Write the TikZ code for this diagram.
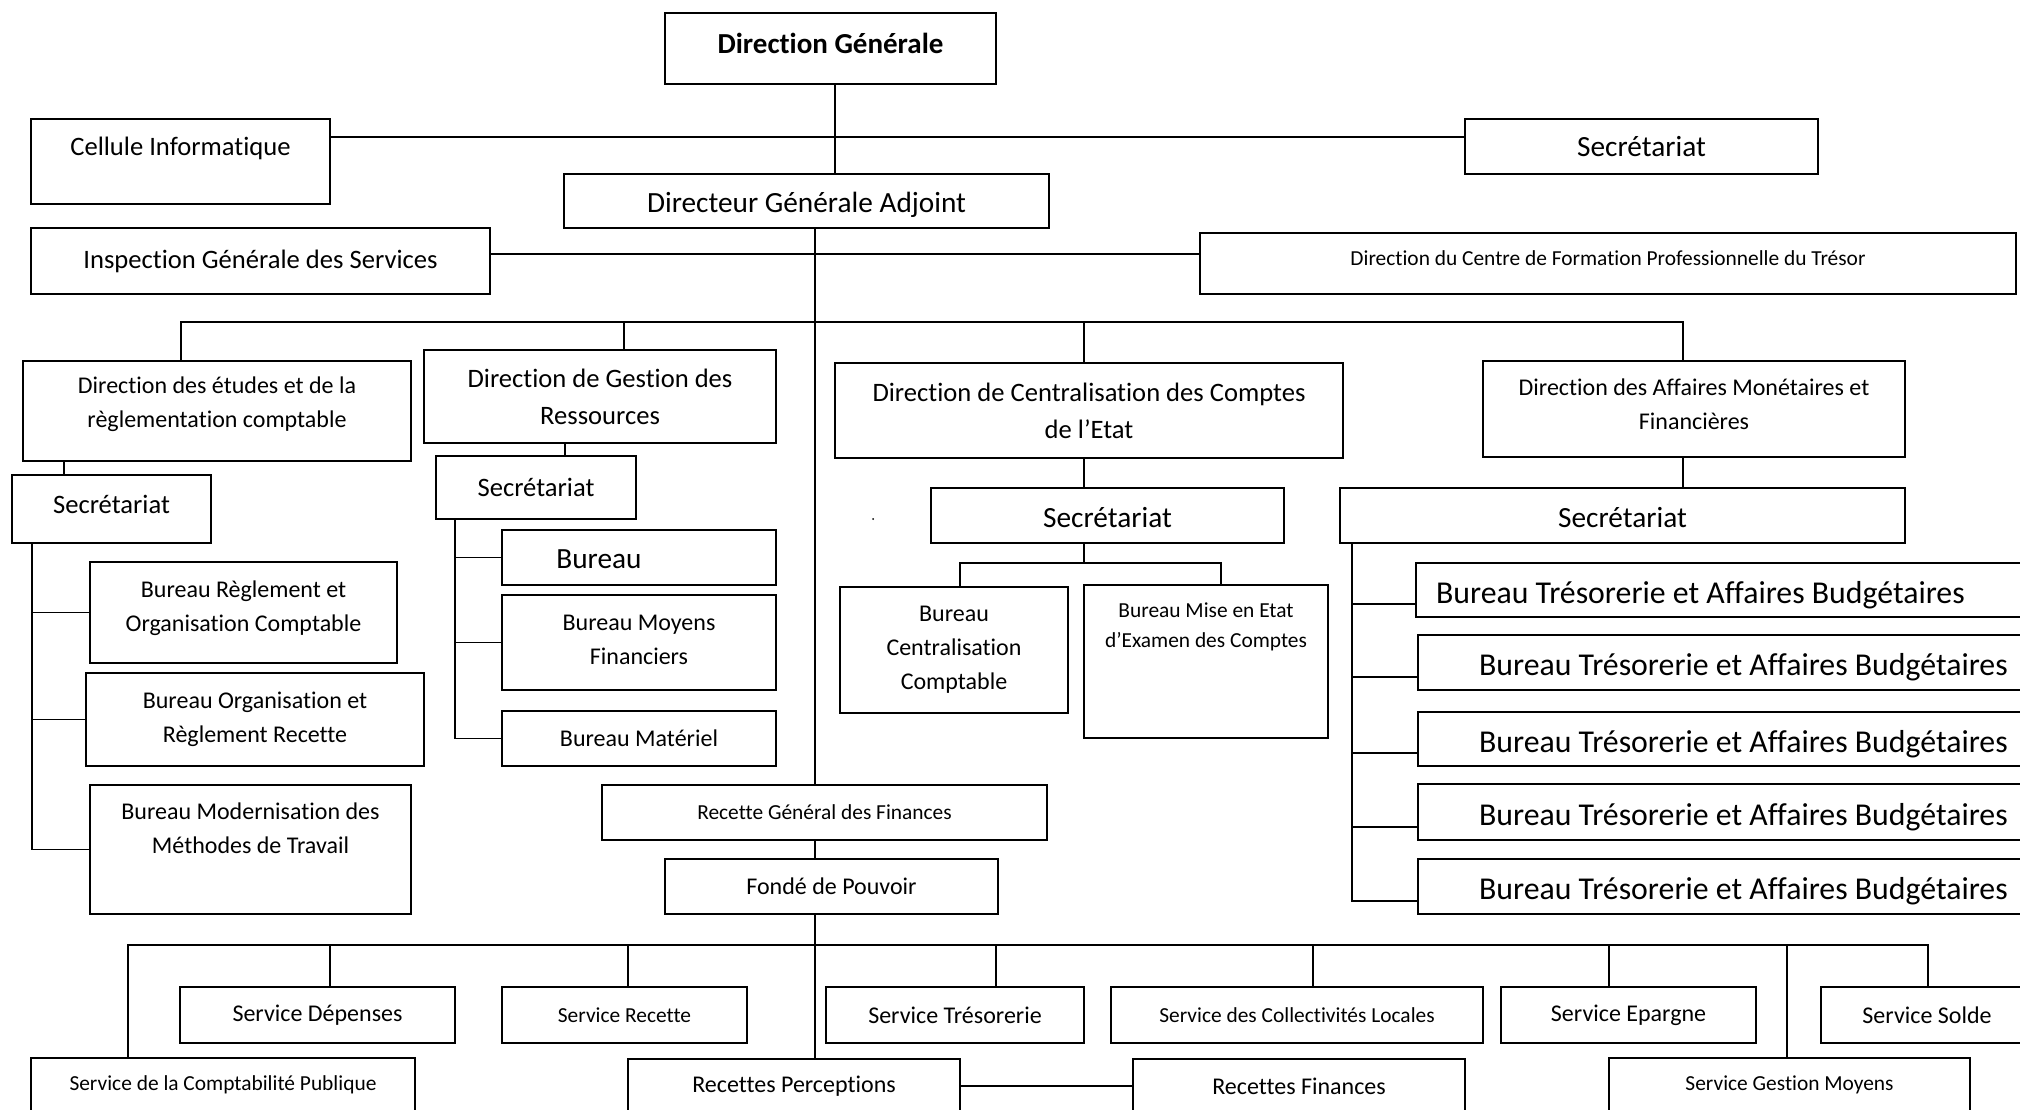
\documentclass[tikz,border=0pt]{standalone}
\usepackage{fontspec}
\setmainfont{Carlito}[Ligatures=NoCommon]

\tikzset{
  box/.style={draw, line width=2.2pt, inner sep=0pt, align=center},
  txt/.style={inner sep=0pt, align=center},
  link/.style={line width=1.8pt},
  fb/.style={font=\fontsize{29}{35}\selectfont\bfseries},
  fxxl/.style={font=\fontsize{31.8}{41}\selectfont},
  fxl/.style={font=\fontsize{29.3}{41}\selectfont},
  fl/.style={font=\fontsize{26.6}{37}\selectfont},
  fm/.style={font=\fontsize{24}{34}\selectfont},
  fxs/.style={font=\fontsize{21.4}{30.5}\selectfont},
}

\begin{document}
\begin{tikzpicture}[x=1pt, y=-1pt]
    \useasboundingbox (0,0) rectangle (2020,1110);
    \clip (0,0) rectangle (2020,1110);

    % direction generale
    \node[box, minimum width=331pt, minimum height=71pt] (dg) at (830.5,48.5) {};
    \node[txt, fb] (dg-t) at ([yshift=5.5pt]dg) {Direction Générale};
    \node[box, minimum width=299pt, minimum height=85pt] (cel) at (180.5,161.5) {};
    \node[txt, fl] (cel-t) at ([yshift=13.5pt]cel) {Cellule Informatique};
    \node[box, fxl, minimum width=353pt, minimum height=55pt] (sec) at (1641.5,146.5) {Secrétariat};
    \node[box, minimum width=485pt, minimum height=54pt] (dga) at (806.5,201) {};
    \node[txt, fxl] (dga-t) at ([yshift=-4pt]dga) {Directeur Générale Adjoint};
    \node[box, fl, minimum width=459pt, minimum height=66pt] (igs) at (260.5,261) {Inspection Générale des Services};
    \node[box, minimum width=816pt, minimum height=61pt] (dcf) at (1608,263.5) {};
    \node[txt, fxs] (dcf-t) at ([yshift=5.5pt]dcf) {Direction du Centre de Formation Professionnelle du Trésor};

    % directions
    \node[box, minimum width=388pt, minimum height=100pt] (der) at (217,411) {};
    \node[txt, fm] (der-t) at ([yshift=7pt]der) {Direction des études et de la\\règlementation comptable};
    \node[box, fl, minimum width=352pt, minimum height=93pt] (dgr) at (600,396.5) {Direction de Gestion des\\Ressources};
    \node[box, fl, minimum width=508pt, minimum height=95pt] (dcc) at (1089,410.5) {Direction de Centralisation des Comptes\\de l’Etat};
    \node[box, minimum width=422pt, minimum height=96pt] (dam) at (1694,409) {};
    \node[txt, fm] (dam-t) at ([yshift=5pt]dam) {Direction des Affaires Monétaires et\\Financières};

    % secretariats
    \node[box, minimum width=199pt, minimum height=68pt] (ders) at (111.5,509) {};
    \node[txt, fl] (ders-t) at ([yshift=5pt]ders) {Secrétariat};
    \node[box, fl, minimum width=200pt, minimum height=63pt] (dgrs) at (536,487.5) {Secrétariat};
    \node[box, minimum width=353pt, minimum height=55pt] (dccs) at (1107.5,515.5) {};
    \node[txt, fxl] (dccs-t) at ([yshift=-2.5pt]dccs) {Secrétariat};
    \node[box, minimum width=565pt, minimum height=55pt] (dams) at (1622.5,515.5) {};
    \node[txt, fxl] (dams-t) at ([yshift=-2.5pt]dams) {Secrétariat};

    % bureaux etudes
    \node[box, minimum width=307pt, minimum height=101pt] (bro) at (243.5,612.5) {};
    \node[txt, fm] (bro-t) at ([yshift=4pt]bro) {Bureau Règlement et\\Organisation Comptable};
    \node[box, fm, minimum width=338pt, minimum height=93pt] (bor) at (255,719.5) {Bureau Organisation et\\Règlement Recette};
    \node[box, minimum width=321pt, minimum height=129pt] (bmm) at (250.5,849.5) {};
    \node[txt, fm] (bmm-t) at ([yshift=21.5pt]bmm) {Bureau Modernisation des\\Méthodes de Travail};

    % bureaux ressources
    \node[box, minimum width=274pt, minimum height=55pt] (bur) at (639,557.5) {};
    \node[txt, fxl] (bur-t) at ([xshift=-40pt, yshift=-2pt]bur) {Bureau};
    \node[box, minimum width=274pt, minimum height=95pt] (bmf) at (639,642.5) {};
    \node[txt, fm] (bmf-t) at ([yshift=2.5pt]bmf) {Bureau Moyens\\Financiers};
    \node[box, fm, minimum width=274pt, minimum height=55pt] (bmt) at (639,738.5) {Bureau Matériel};

    % bureaux centralisation
    \node[box, fm, minimum width=228pt, minimum height=126pt] (bcc) at (954,650) {Bureau\\Centralisation\\Comptable};
    \node[box, minimum width=244pt, minimum height=153pt] (bme) at (1206,661.5) {};
    \node[txt, fxs] (bme-t) at ([yshift=34.5pt]bme) {Bureau Mise en Etat\\d’Examen des Comptes};
    \fill (873,519) circle[radius=1pt];

    % bureaux affaires monetaires
    \node[box, minimum width=644pt, minimum height=54pt] (bt1) at (1738,590) {};
    \node[txt, fxxl, anchor=west] (bt1-t) at ([xshift=21pt, yshift=-5pt]bt1.west) {Bureau Trésorerie et Affaires Budgétaires};
    \node[box, minimum width=642pt, minimum height=55pt] (bt2) at (1739,662.5) {};
    \node[txt, fxxl, anchor=west] (bt2-t) at ([xshift=62pt, yshift=-5pt]bt2.west) {Bureau Trésorerie et Affaires Budgétaires};
    \node[box, minimum width=642pt, minimum height=54pt] (bt3) at (1739,739) {};
    \node[txt, fxxl, anchor=west] (bt3-t) at ([xshift=62pt, yshift=-5pt]bt3.west) {Bureau Trésorerie et Affaires Budgétaires};
    \node[box, minimum width=642pt, minimum height=56pt] (bt4) at (1739,812) {};
    \node[txt, fxxl, anchor=west] (bt4-t) at ([xshift=62pt, yshift=-5pt]bt4.west) {Bureau Trésorerie et Affaires Budgétaires};
    \node[box, minimum width=642pt, minimum height=55pt] (bt5) at (1739,886.5) {};
    \node[txt, fxxl, anchor=west] (bt5-t) at ([xshift=62pt, yshift=-5pt]bt5.west) {Bureau Trésorerie et Affaires Budgétaires};

    % recette generale
    \node[box, fxs, minimum width=445pt, minimum height=55pt] (rgf) at (824.5,812.5) {Recette Général des Finances};
    \node[box, fm, minimum width=333pt, minimum height=55pt] (fdp) at (831.5,886.5) {Fondé de Pouvoir};

    % services
    \node[box, fm, minimum width=275pt, minimum height=56pt] (sde) at (317.5,1015) {Service Dépenses};
    \node[box, fxs, minimum width=245pt, minimum height=56pt] (sre) at (624.5,1015) {Service Recette};
    \node[box, fm, minimum width=258pt, minimum height=56pt] (str) at (955,1015) {Service Trésorerie};
    \node[box, fxs, minimum width=372pt, minimum height=56pt] (scl) at (1297,1015) {Service des Collectivités Locales};
    \node[box, fm, minimum width=255pt, minimum height=56pt] (sep) at (1628.5,1015) {Service Epargne};
    \node[box, fm, minimum width=212pt, minimum height=56pt] (sso) at (1927,1015) {Service Solde};
    \node[box, fxs, minimum width=384pt, minimum height=54pt] (scp) at (223,1085) {Service de la Comptabilité Publique};
    \node[box, fm, minimum width=332pt, minimum height=54pt] (rpe) at (794,1086) {Recettes Perceptions};
    \node[box, fm, minimum width=332pt, minimum height=54pt] (rfi) at (1299,1086) {Recettes Finances};
    \node[box, fxs, minimum width=361pt, minimum height=54pt] (sgm) at (1789.5,1085) {Service Gestion Moyens};

    % connectors
    \coordinate (h1) at (0,137);
    \coordinate (h2) at (0,254);
    \coordinate (h3) at (0,322);
    \coordinate (h4) at (0,563);
    \coordinate (h5) at (0,945);
    \coordinate (axe) at (815,0);

    \draw[link] ([xshift=4.5pt]dg.south) -- ([xshift=4.5pt]dg.south |- dga.north);
    \draw[link] (cel.east |- h1) -- (sec.west |- h1);
    \draw[link] (igs.east |- h2) -- (dcf.west |- h2);
    \draw[link] (dga.south -| axe) -- (rgf.north -| axe);
    \draw[link] (rgf.south -| axe) -- (fdp.north -| axe);
    \draw[link] (fdp.south -| axe) -- (rpe.north -| axe);

    \draw[link] ([xshift=-36pt]der.north) -- ([xshift=-36pt]der.north |- h3)
        -- ([xshift=-11pt]dam.north |- h3) -- ([xshift=-11pt]dam.north);
    \draw[link] ([xshift=24pt]dgr.north) -- ([xshift=24pt]dgr.north |- h3);
    \draw[link] ([xshift=-5pt]dcc.north) -- ([xshift=-5pt]dcc.north |- h3);

    \draw[link] ([xshift=-47.5pt]ders.north) -- ([xshift=-47.5pt]ders.north |- der.south);
    \coordinate (eb) at ([xshift=-79.5pt]ders.south);
    \draw[link] (eb) |- (bmm.west);
    \draw[link] (eb |- bro.west) -- (bro.west);
    \draw[link] (eb |- bor.west) -- (bor.west);

    \draw[link] ([xshift=29pt]dgrs.north) -- ([xshift=29pt]dgrs.north |- dgr.south);
    \coordinate (gb) at ([xshift=-81pt]dgrs.south);
    \draw[link] (gb) |- (bmt.west);
    \draw[link] (gb |- bur.west) -- (bur.west);
    \draw[link] (gb |- bmf.west) -- (bmf.west);

    \draw[link] ([xshift=-5pt]dcc.south) -- ([xshift=-5pt]dcc.south |- dccs.north);
    \draw[link] ([xshift=-23.5pt]dccs.south) -- ([xshift=-23.5pt]dccs.south |- h4);
    \draw[link] ([xshift=6pt]bcc.north) -- ([xshift=6pt]bcc.north |- h4)
        -- ([xshift=15pt]bme.north |- h4) -- ([xshift=15pt]bme.north);

    \draw[link] ([xshift=-11pt]dam.south) -- ([xshift=-11pt]dam.south |- dams.north);
    \coordinate (ab) at ([xshift=13pt]dams.south west);
    \draw[link] (ab) |- ([yshift=14pt]bt5.south west);
    \draw[link] ([yshift=14pt]bt1.south west) -- ++(-63pt,0);
    \draw[link] ([yshift=14pt]bt2.south west) -- ++(-65pt,0);
    \draw[link] ([yshift=14pt]bt3.south west) -- ++(-65pt,0);
    \draw[link] ([yshift=14pt]bt4.south west) -- ++(-65pt,0);

    \draw[link] ([xshift=-95pt]scp.north) -- ([xshift=-95pt]scp.north |- h5)
        -- ([xshift=1pt]sso.north |- h5) -- ([xshift=1pt]sso.north);
    \draw[link] ([xshift=12.5pt]sde.north) -- ([xshift=12.5pt]sde.north |- h5);
    \draw[link] ([xshift=3.5pt]sre.north) -- ([xshift=3.5pt]sre.north |- h5);
    \draw[link] ([xshift=41pt]str.north) -- ([xshift=41pt]str.north |- h5);
    \draw[link] ([xshift=16pt]scl.north) -- ([xshift=16pt]scl.north |- h5);
    \draw[link] ([xshift=-19.5pt]sep.north) -- ([xshift=-19.5pt]sep.north |- h5);
    \draw[link] ([xshift=-2.5pt]sgm.north) -- ([xshift=-2.5pt]sgm.north |- h5);
    \draw[link] (rpe.east) -- (rfi.west);
\end{tikzpicture}
\end{document}
